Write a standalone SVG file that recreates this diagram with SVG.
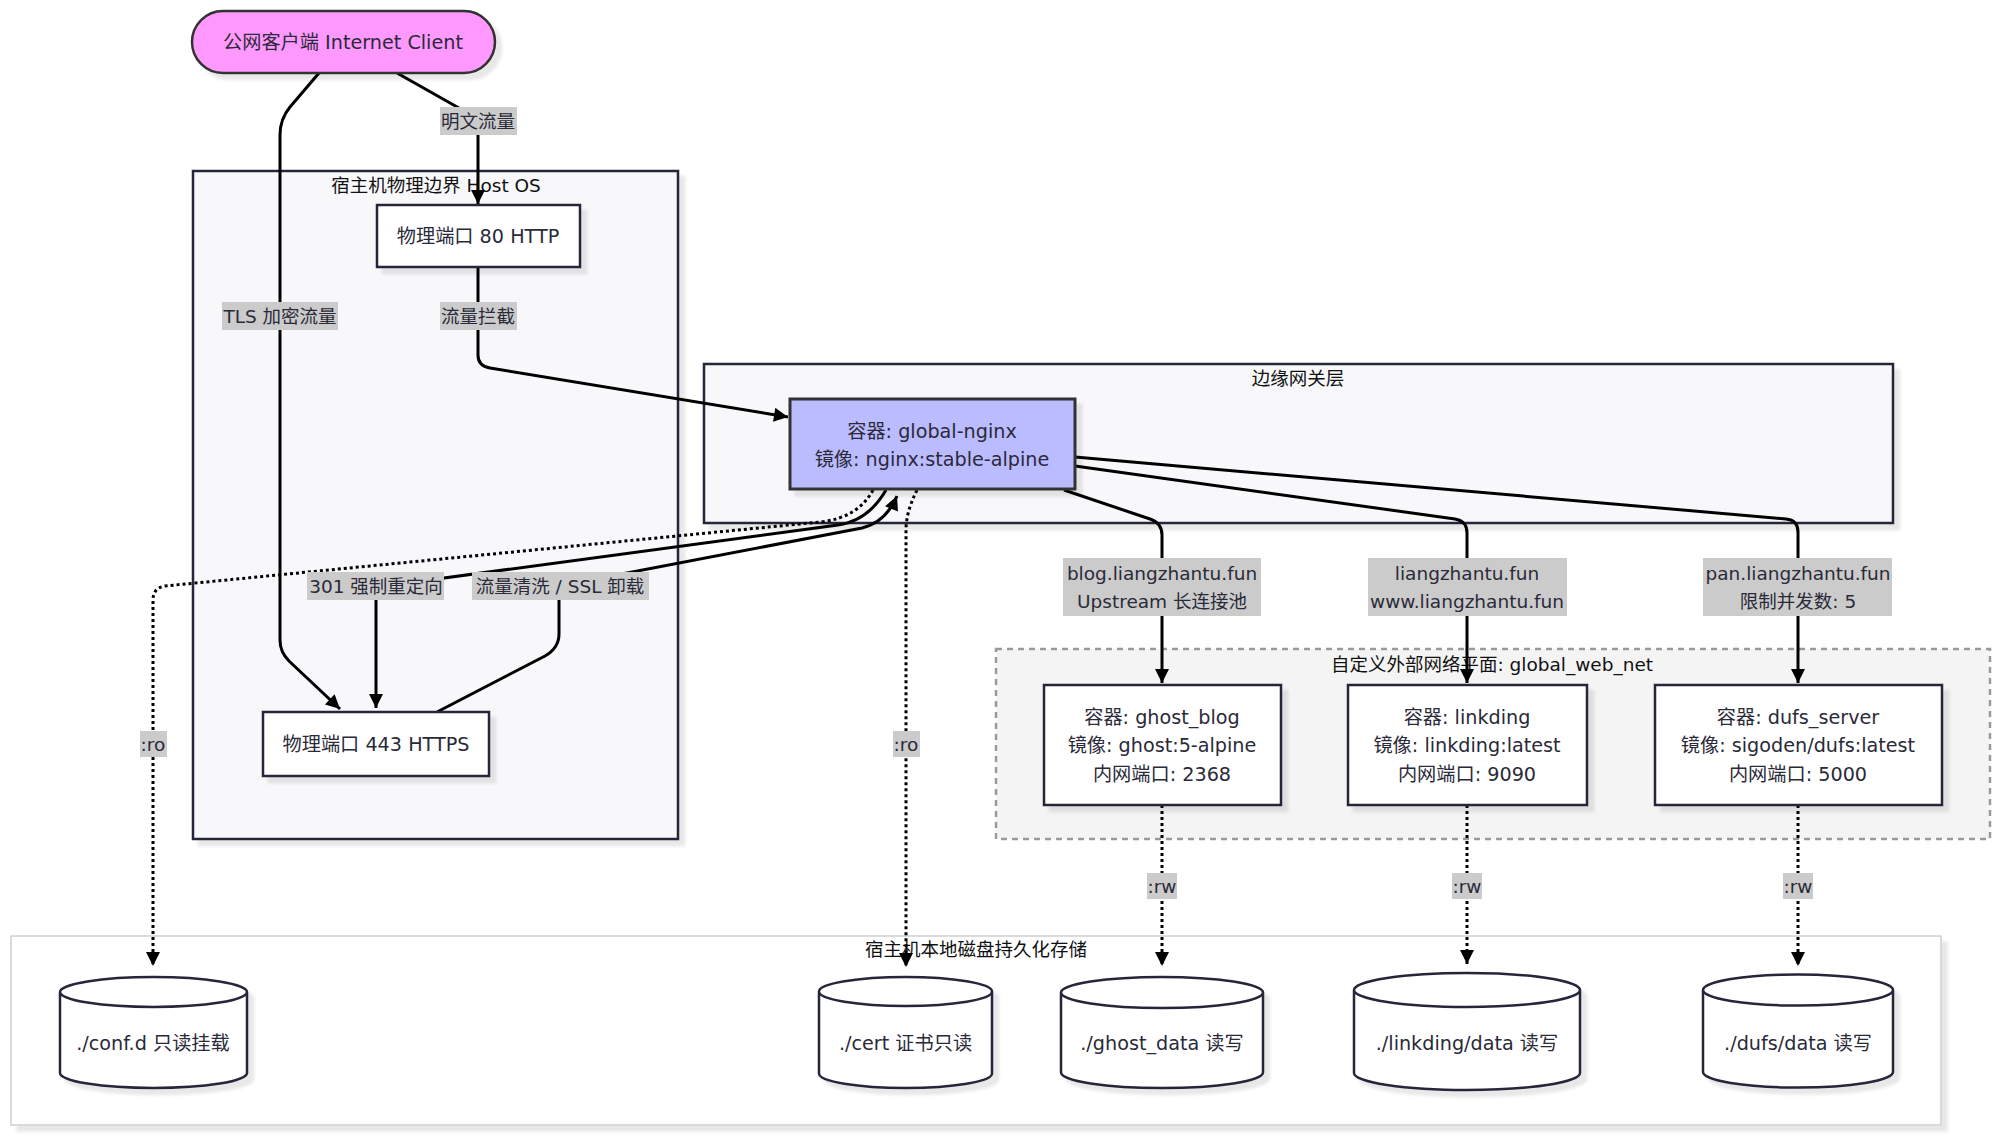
<svg xmlns="http://www.w3.org/2000/svg" width="2000" height="1137" viewBox="0 0 2000 1137">
<defs>
<filter id="sh" x="-5%" y="-5%" width="115%" height="130%">
<feDropShadow dx="6" dy="6" stdDeviation="1.5" flood-color="#000" flood-opacity="0.09"/>
</filter>
<marker id="ah" viewBox="0 0 10 10" refX="10" refY="5" markerWidth="15" markerHeight="14" markerUnits="userSpaceOnUse" orient="auto">
<path d="M0,0 L10,5 L0,10 z" fill="#000"/>
</marker>
</defs>
<style>
text{font-family:"DejaVu Sans","Noto Sans CJK SC",sans-serif;font-size:18.5px;fill:#2a2a38;text-anchor:middle;dominant-baseline:central}
.nt{font-size:19.2px}
.ct{fill:#111}
.cl{fill:#f8f8fb;stroke:#26263a;stroke-width:2.5}
.nd{fill:#fff;stroke:#26263a;stroke-width:2.5}
.e{fill:none;stroke:#000;stroke-width:3}
.d{fill:none;stroke:#000;stroke-width:3;stroke-dasharray:3 3}
.lb{fill:#cbcbcb}
.cy{fill:#fff;stroke:#26263a;stroke-width:2.5}
</style>
<rect width="2000" height="1137" fill="#fff"/>
<g id="clusters">
<g id="storage"><rect x="11" y="936" width="1930" height="189" fill="#fff" stroke="#cfcfcf" stroke-width="1.5" filter="url(#sh)"/><text class="ct" x="976" y="949">宿主机本地磁盘持久化存储</text></g>
<g id="hostos"><rect class="cl" x="193" y="171" width="485" height="668" filter="url(#sh)"/><text class="ct" x="436" y="185">宿主机物理边界 Host OS</text></g>
<g id="gateway"><rect class="cl" x="704" y="364" width="1189" height="159" filter="url(#sh)"/><text class="ct" x="1298" y="378">边缘网关层</text></g>
<g id="webnet"><rect x="996" y="649" width="994" height="190" fill="#f4f4f4" stroke="#9a9a9a" stroke-width="2.5" stroke-dasharray="6 5"/><text class="ct" x="1492" y="664">自定义外部网络平面: global_web_net</text></g>
</g>
<g id="connectors">
<path class="e" d="M397,73 L466,112 Q478,119 478,131 L478,204" marker-end="url(#ah)"/>
<path class="e" d="M319,73 L290,107 Q280,119 280,135 L280,640 Q280,652 289,661 L340,709" marker-end="url(#ah)"/>
<path class="e" d="M478,267 L478,355 Q478,366 490,368 L788,417" marker-end="url(#ah)"/>
<path class="e" d="M886,490 Q868,521 838,525 L392,585 Q376,588 376,600 L376,708" marker-end="url(#ah)"/>
<path class="e" d="M437,712 L545,656 Q559,648 559,634 L559,586 L862,528 Q886,522 897,496" marker-end="url(#ah)"/>
<path class="d" d="M873,490 Q858,518 820,522 L165,586 Q153,588 153,600 L153,966" marker-end="url(#ah)"/>
<path class="d" d="M917,490 Q906,512 906,530 L906,967" marker-end="url(#ah)"/>
<path class="e" d="M1064,490 L1150,519 Q1162,523 1162,535 L1162,683" marker-end="url(#ah)"/>
<path class="e" d="M1075,466 L1455,519 Q1467,521 1467,533 L1467,683" marker-end="url(#ah)"/>
<path class="e" d="M1075,457 L1786,519 Q1798,520 1798,532 L1798,683" marker-end="url(#ah)"/>
<path class="d" d="M1162,805 L1162,966" marker-end="url(#ah)"/>
<path class="d" d="M1467,805 L1467,964" marker-end="url(#ah)"/>
<path class="d" d="M1798,805 L1798,966" marker-end="url(#ah)"/>
</g>
<g id="edge-labels">
<rect class="lb" x="440" y="107" width="77" height="28"/><text x="478" y="121">明文流量</text>
<rect class="lb" x="222" y="302" width="116" height="28"/><text x="280" y="316">TLS 加密流量</text>
<rect class="lb" x="440" y="302" width="77" height="28"/><text x="478" y="316">流量拦截</text>
<rect class="lb" x="307" y="572" width="137" height="28"/><text x="376" y="586">301 强制重定向</text>
<rect class="lb" x="472" y="572" width="177" height="28"/><text x="560" y="586">流量清洗 / SSL 卸载</text>
<rect class="lb" x="1063" y="558" width="198" height="58"/><text x="1162" y="573">blog.liangzhantu.fun</text><text x="1162" y="601">Upstream 长连接池</text>
<rect class="lb" x="1368" y="558" width="199" height="58"/><text x="1467" y="573">liangzhantu.fun</text><text x="1467" y="601">www.liangzhantu.fun</text>
<rect class="lb" x="1703" y="558" width="189" height="58"/><text x="1798" y="573">pan.liangzhantu.fun</text><text x="1798" y="601">限制并发数: 5</text>
<rect class="lb" x="140" y="731" width="27" height="26"/><text x="153" y="744">:ro</text>
<rect class="lb" x="893" y="731" width="27" height="26"/><text x="906" y="744">:ro</text>
<rect class="lb" x="1147" y="873" width="30" height="26"/><text x="1162" y="886">:rw</text>
<rect class="lb" x="1452" y="873" width="30" height="26"/><text x="1467" y="886">:rw</text>
<rect class="lb" x="1783" y="873" width="30" height="26"/><text x="1798" y="886">:rw</text>
</g>
<g id="client"><rect x="192" y="11" width="303" height="62" rx="31" fill="#ff99ff" stroke="#333" stroke-width="2.5" filter="url(#sh)"/><text class="nt" x="343" y="42">公网客户端 Internet Client</text></g>
<g id="port80"><rect class="nd" x="377" y="205" width="203" height="62" filter="url(#sh)"/><text class="nt" x="478" y="236">物理端口 80 HTTP</text></g>
<g id="port443"><rect class="nd" x="263" y="712" width="226" height="64" filter="url(#sh)"/><text class="nt" x="376" y="744">物理端口 443 HTTPS</text></g>
<g id="nginx"><rect x="790" y="399" width="285" height="90" fill="#bbbbff" stroke="#333" stroke-width="3" filter="url(#sh)"/><text class="nt" x="932" y="431">容器: global-nginx</text><text class="nt" x="932" y="459">镜像: nginx:stable-alpine</text></g>
<g id="ghost"><rect class="nd" x="1044" y="685" width="237" height="120" filter="url(#sh)"/><text class="nt" x="1162" y="717">容器: ghost_blog</text><text class="nt" x="1162" y="745">镜像: ghost:5-alpine</text><text class="nt" x="1162" y="774">内网端口: 2368</text></g>
<g id="linkding"><rect class="nd" x="1348" y="685" width="239" height="120" filter="url(#sh)"/><text class="nt" x="1467" y="717">容器: linkding</text><text class="nt" x="1467" y="745">镜像: linkding:latest</text><text class="nt" x="1467" y="774">内网端口: 9090</text></g>
<g id="dufs"><rect class="nd" x="1655" y="685" width="287" height="120" filter="url(#sh)"/><text class="nt" x="1798" y="717">容器: dufs_server</text><text class="nt" x="1798" y="745">镜像: sigoden/dufs:latest</text><text class="nt" x="1798" y="774">内网端口: 5000</text></g>
<g id="confd"><path class="cy" filter="url(#sh)" d="M60,992 a93.5,15 0 0 0 187,0 a93.5,15 0 0 0 -187,0 l0,81 a93.5,15 0 0 0 187,0 l0,-81"/><text class="nt" x="153" y="1043">./conf.d 只读挂载</text></g>
<g id="cert"><path class="cy" filter="url(#sh)" d="M819,991.5 a86.5,14.5 0 0 0 173,0 a86.5,14.5 0 0 0 -173,0 l0,82 a86.5,14.5 0 0 0 173,0 l0,-82"/><text class="nt" x="905.5" y="1043">./cert 证书只读</text></g>
<g id="ghostdata"><path class="cy" filter="url(#sh)" d="M1061,992.5 a101,15.5 0 0 0 202,0 a101,15.5 0 0 0 -202,0 l0,80 a101,15.5 0 0 0 202,0 l0,-80"/><text class="nt" x="1162" y="1043">./ghost_data 读写</text></g>
<g id="linkdata"><path class="cy" filter="url(#sh)" d="M1354,990 a113,17 0 0 0 226,0 a113,17 0 0 0 -226,0 l0,83 a113,17 0 0 0 226,0 l0,-83"/><text class="nt" x="1467" y="1043">./linkding/data 读写</text></g>
<g id="dufsdata"><path class="cy" filter="url(#sh)" d="M1703,990 a95,15.5 0 0 0 190,0 a95,15.5 0 0 0 -190,0 l0,82 a95,15.5 0 0 0 190,0 l0,-82"/><text class="nt" x="1798" y="1043">./dufs/data 读写</text></g>
</svg>
